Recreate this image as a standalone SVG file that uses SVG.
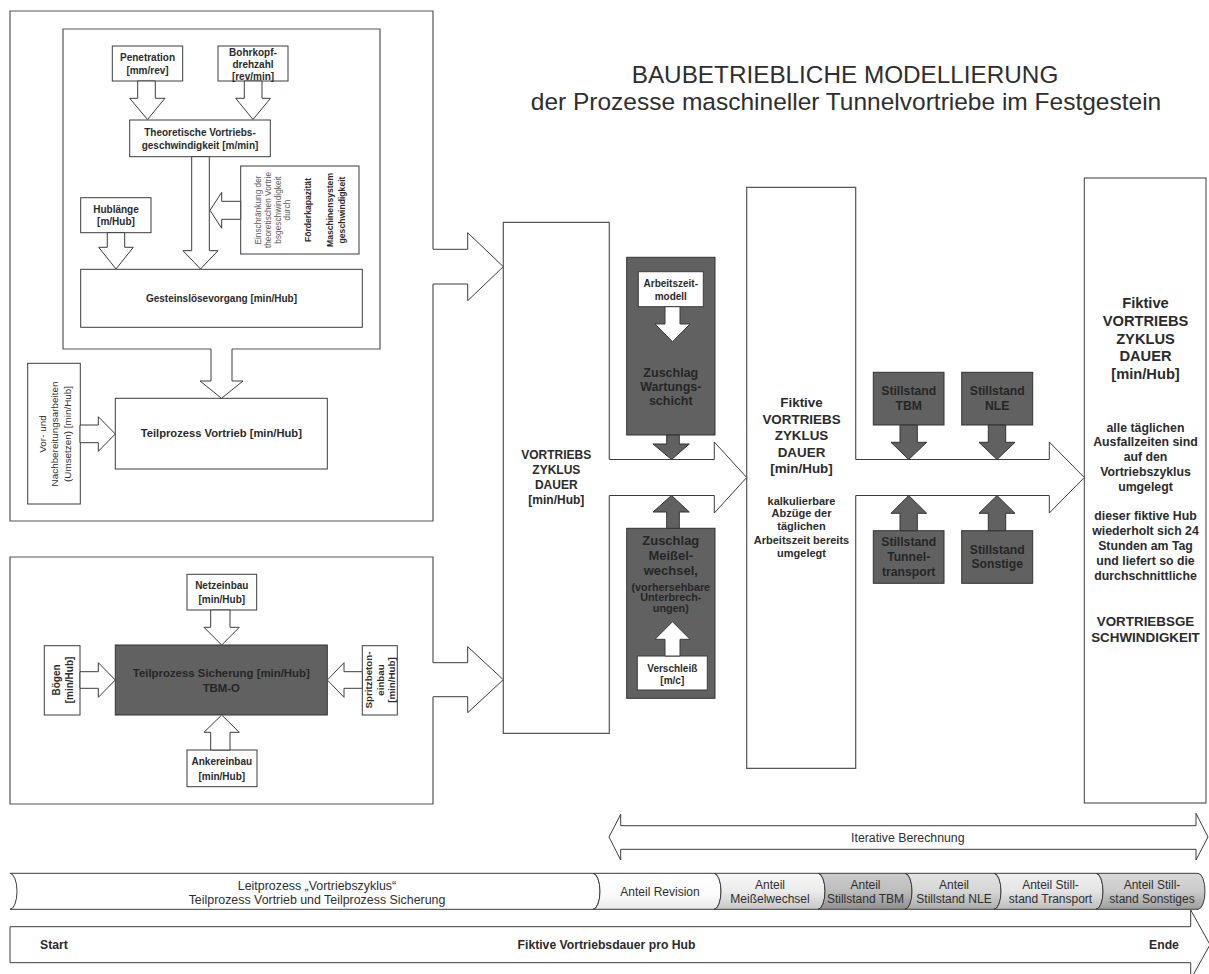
<svg xmlns="http://www.w3.org/2000/svg" width="1209" height="974" viewBox="0 0 1209 974">
<defs>
<style>
.b{fill:#fff;stroke:#3c3c3c;stroke-width:1}
.ob{fill:#fff;stroke:#555;stroke-width:1.2}
.g{fill:#616161;stroke:#333;stroke-width:1}
.a{fill:#fff;stroke:#3c3c3c;stroke-width:1}
.ga{fill:#616161;stroke:#333;stroke-width:1}
.seg{stroke:#3c3c3c;stroke-width:1}
text{font-family:"Liberation Sans",Arial,Helvetica,sans-serif}
.t{font-weight:bold;fill:#2b2b2b;text-anchor:middle}
.tg{font-weight:bold;fill:#262626;text-anchor:middle}
.r{fill:#2e2e2e;text-anchor:middle}
.rg{fill:#585858;text-anchor:middle}
</style>
<linearGradient id="g1" x1="0" y1="0" x2="0" y2="1"><stop offset="0" stop-color="#f6f6f6"/><stop offset="0.5" stop-color="#ececec"/><stop offset="1" stop-color="#c6c6c6"/></linearGradient>
<linearGradient id="g2" x1="0" y1="0" x2="0" y2="1"><stop offset="0" stop-color="#cbcbcb"/><stop offset="0.5" stop-color="#bdbdbd"/><stop offset="1" stop-color="#8f8f8f"/></linearGradient>
<linearGradient id="g3" x1="0" y1="0" x2="0" y2="1"><stop offset="0" stop-color="#e2e2e2"/><stop offset="0.5" stop-color="#d6d6d6"/><stop offset="1" stop-color="#ababab"/></linearGradient>
<linearGradient id="g4" x1="0" y1="0" x2="0" y2="1"><stop offset="0" stop-color="#efefef"/><stop offset="0.5" stop-color="#e5e5e5"/><stop offset="1" stop-color="#bdbdbd"/></linearGradient>
<linearGradient id="g5" x1="0" y1="0" x2="0" y2="1"><stop offset="0" stop-color="#d8d8d8"/><stop offset="0.5" stop-color="#cbcbcb"/><stop offset="1" stop-color="#9d9d9d"/></linearGradient>
<linearGradient id="g0" x1="0" y1="0" x2="0" y2="1"><stop offset="0" stop-color="#ffffff"/><stop offset="0.6" stop-color="#fbfbfb"/><stop offset="1" stop-color="#e8e8e8"/></linearGradient>
</defs>
<rect x="0" y="0" width="1209" height="974" fill="#fff"/>

<g id="title">
<text class="r" x="845" y="82.5" font-size="24.3">BAUBETRIEBLICHE MODELLIERUNG</text>
<text class="r" x="846" y="109.5" font-size="24.5">der Prozesse maschineller Tunnelvortriebe im Festgestein</text>
</g>

<g id="outer-vortrieb"><path class="ob" d="M433,249.3 V11 H10 V521 H433 V284"/></g>
<g id="inner-gestein"><path class="ob" d="M211,349 H63 V29 H380 V349 H232"/></g>

<g id="penetration"><rect class="b" x="112.3" y="46" width="70.4" height="35"/>
<text class="t" font-size="10" x="147.5" y="61.3">Penetration</text><text class="t" font-size="10" x="147.5" y="74">[mm/rev]</text></g>
<g id="bohrkopf"><rect class="b" x="218" y="46" width="70" height="35"/>
<text class="t" font-size="10" x="253" y="55.8">Bohrkopf-</text><text class="t" font-size="10" x="253" y="67.5">drehzahl</text><text class="t" font-size="10" x="253" y="79.5">[rev/min]</text></g>
<g id="theoretisch"><rect class="b" x="129.7" y="120" width="140.6" height="36.7"/>
<text class="t" font-size="10" x="200" y="136">Theoretische Vortriebs-</text><text class="t" font-size="10" x="200" y="148.6">geschwindigkeit [m/min]</text></g>
<g id="einschraenkung"><rect class="b" x="240.7" y="166" width="118.3" height="88"/>
<text class="rg" font-size="8.3" transform="translate(261,210) rotate(-90)">Einschränkung der</text>
<text class="rg" font-size="8.3" transform="translate(271,210) rotate(-90)">theoretischen Vortrie</text>
<text class="rg" font-size="8.3" transform="translate(280.5,210) rotate(-90)">bsgeschwindigkeit</text>
<text class="rg" font-size="8.3" transform="translate(290,210) rotate(-90)">durch</text>
<text class="t" font-size="8.6" transform="translate(311,210) rotate(-90)">Förderkapazität</text>
<text class="t" font-size="8.6" transform="translate(332.8,210) rotate(-90)">Maschinensystem</text>
<text class="t" font-size="8.6" transform="translate(344.8,210) rotate(-90)">geschwindigkeit</text></g>
<g id="hublaenge"><rect class="b" x="80.7" y="197.7" width="70.3" height="35"/>
<text class="t" font-size="10" x="116" y="212.6">Hublänge</text><text class="t" font-size="10" x="116" y="225.3">[m/Hub]</text></g>
<g id="gestein"><rect class="b" x="80.7" y="269.3" width="281.6" height="58"/>
<text class="t" font-size="10" x="221.5" y="301.6">Gesteinslösevorgang [min/Hub]</text></g>
<g id="teil-vortrieb"><rect class="b" x="115.3" y="398.3" width="212" height="70.7"/>
<text class="t" font-size="11.2" x="221.3" y="437">Teilprozess Vortrieb [min/Hub]</text></g>
<g id="vor-nach"><rect class="b" x="27.7" y="363.3" width="52.6" height="140.7"/>
<text class="r" fill="#444" font-size="9.9" transform="translate(45.5,434) rotate(-90)">Vor- und</text>
<text class="r" fill="#444" font-size="9.9" transform="translate(58.2,434) rotate(-90)">Nachbereitungsarbeiten</text>
<text class="r" fill="#444" font-size="9.9" transform="translate(70.5,434) rotate(-90)">(Umsetzen) [min/Hub]</text></g>

<g id="outer-sicherung"><path class="ob" d="M433,662.7 V557 H10 V804 H433 V696.7"/></g>
<g id="netzeinbau"><rect class="b" x="187" y="574.3" width="69.7" height="35.7"/>
<text class="t" font-size="10" x="221.8" y="588.6">Netzeinbau</text><text class="t" font-size="10" x="221.8" y="602.6">[min/Hub]</text></g>
<g id="sicherung"><rect class="g" x="115.3" y="645" width="212" height="70"/>
<text class="tg" font-size="11.4" x="221.3" y="677">Teilprozess Sicherung [min/Hub]</text><text class="tg" font-size="11.4" x="221.3" y="692">TBM-O</text></g>
<g id="boegen"><rect class="b" x="44.3" y="645.7" width="35.7" height="69.3"/>
<text class="t" font-size="10" transform="translate(60.3,680) rotate(-90)">Bögen</text>
<text class="t" font-size="10" transform="translate(72.6,680) rotate(-90)">[min/Hub]</text></g>
<g id="spritzbeton"><rect class="b" x="362.3" y="645.7" width="35" height="69.3"/>
<text class="t" font-size="9.8" transform="translate(371.8,680) rotate(-90)">Spritzbeton-</text>
<text class="t" font-size="9.8" transform="translate(383.5,680) rotate(-90)">einbau</text>
<text class="t" font-size="9.8" transform="translate(395.2,680) rotate(-90)">[min/Hub]</text></g>
<g id="ankereinbau"><rect class="b" x="187" y="750" width="70" height="36.7"/>
<text class="t" font-size="10" x="221.8" y="765.3">Ankereinbau</text><text class="t" font-size="10" x="221.8" y="779.6">[min/Hub]</text></g>

<g id="vortriebszyklus"><path class="ob" d="M609.3,459.5 V222.3 H503.3 V733.3 H609.3 V495.5"/>
<text class="t" font-size="12" x="556.3" y="459.3">VORTRIEBS</text>
<text class="t" font-size="12" x="556.3" y="474.3">ZYKLUS</text>
<text class="t" font-size="12" x="556.3" y="489.3">DAUER</text>
<text class="t" font-size="12" x="556.3" y="504.3">[min/Hub]</text></g>

<g id="wartung"><rect class="g" x="626.7" y="257.3" width="88.3" height="177.7"/>
<text class="tg" font-size="12.5" x="670.8" y="377.2">Zuschlag</text>
<text class="tg" font-size="12.5" x="670.8" y="391.2">Wartungs-</text>
<text class="tg" font-size="12.5" x="670.8" y="405.2">schicht</text></g>
<g id="arbeitszeit"><rect class="b" x="638.3" y="271.7" width="65" height="35"/>
<text class="t" font-size="10" x="670.8" y="286.8">Arbeitszeit-</text><text class="t" font-size="10" x="670.8" y="299.6">modell</text></g>
<g id="meissel"><rect class="g" x="626.7" y="528.3" width="88.3" height="170"/>
<text class="tg" font-size="13" x="670.8" y="544.7">Zuschlag</text>
<text class="tg" font-size="13" x="670.8" y="559.7">Meißel-</text>
<text class="tg" font-size="13" x="670.8" y="574.7">wechsel,</text>
<text class="tg" font-size="10.8" x="670.8" y="590.6">(vorhersehbare</text>
<text class="tg" font-size="10.8" x="670.8" y="601.2">Unterbrech-</text>
<text class="tg" font-size="10.8" x="670.8" y="612">ungen)</text></g>
<g id="verschleiss"><rect class="b" x="637.3" y="656" width="70" height="34"/>
<text class="t" font-size="10" x="672.3" y="671.6">Verschleiß</text><text class="t" font-size="10" x="672.3" y="683.6">[m/c]</text></g>

<g id="fiktiv-mitte"><path class="ob" d="M855.7,459.5 V187.3 H746.7 V768.3 H855.7 V495.5"/>
<text class="t" font-size="13.4" x="801.5" y="406.8">Fiktive</text>
<text class="t" font-size="13.4" x="801.5" y="423.8">VORTRIEBS</text>
<text class="t" font-size="13.4" x="801.5" y="440.3">ZYKLUS</text>
<text class="t" font-size="13.4" x="801.5" y="456.8">DAUER</text>
<text class="t" font-size="13.4" x="801.5" y="472.8">[min/Hub]</text>
<text class="t" font-size="11" x="801.5" y="504.7">kalkulierbare</text>
<text class="t" font-size="11" x="801.5" y="517.3">Abzüge der</text>
<text class="t" font-size="11" x="801.5" y="530">täglichen</text>
<text class="t" font-size="11" x="801.5" y="544">Arbeitszeit bereits</text>
<text class="t" font-size="11" x="801.5" y="557.3">umgelegt</text></g>

<g id="stillstand-tbm"><rect class="g" x="873.3" y="372.3" width="70.7" height="52.7"/>
<text class="tg" font-size="12.2" x="908.7" y="395.1">Stillstand</text><text class="tg" font-size="12.2" x="908.7" y="410.1">TBM</text></g>
<g id="stillstand-nle"><rect class="g" x="961.7" y="372.3" width="71" height="52.7"/>
<text class="tg" font-size="12.2" x="997.2" y="395.1">Stillstand</text><text class="tg" font-size="12.2" x="997.2" y="410.1">NLE</text></g>
<g id="stillstand-transport"><rect class="g" x="873.3" y="530.7" width="70.7" height="52.6"/>
<text class="tg" font-size="12.2" x="908.7" y="546.1">Stillstand</text><text class="tg" font-size="12.2" x="908.7" y="561.1">Tunnel-</text><text class="tg" font-size="12.2" x="908.7" y="576.1">transport</text></g>
<g id="stillstand-sonstige"><rect class="g" x="961.7" y="530.7" width="71" height="52.6"/>
<text class="tg" font-size="12.2" x="997.2" y="553.7">Stillstand</text><text class="tg" font-size="12.2" x="997.2" y="568.4">Sonstige</text></g>

<g id="fiktiv-rechts"><rect class="b" x="1084.3" y="178" width="121.7" height="625"/>
<text class="t" font-size="14.7" x="1145.5" y="308">Fiktive</text>
<text class="t" font-size="14.7" x="1145.5" y="326">VORTRIEBS</text>
<text class="t" font-size="14.7" x="1145.5" y="344.3">ZYKLUS</text>
<text class="t" font-size="14.7" x="1145.5" y="361.3">DAUER</text>
<text class="t" font-size="14.7" x="1145.5" y="378.6">[min/Hub]</text>
<text class="t" font-size="12.3" x="1145.5" y="431.7">alle täglichen</text>
<text class="t" font-size="12.3" x="1145.5" y="446.1">Ausfallzeiten sind</text>
<text class="t" font-size="12.3" x="1145.5" y="461.1">auf den</text>
<text class="t" font-size="12.3" x="1145.5" y="476.1">Vortriebszyklus</text>
<text class="t" font-size="12.3" x="1145.5" y="491.1">umgelegt</text>
<text class="t" font-size="12.3" x="1145.5" y="520.1">dieser fiktive Hub</text>
<text class="t" font-size="12.3" x="1145.5" y="535.1">wiederholt sich 24</text>
<text class="t" font-size="12.3" x="1145.5" y="550.1">Stunden am Tag</text>
<text class="t" font-size="12.3" x="1145.5" y="565.1">und liefert so die</text>
<text class="t" font-size="12.3" x="1145.5" y="580.1">durchschnittliche</text>
<text class="t" font-size="13.4" x="1145.5" y="626.1">VORTRIEBSGE</text>
<text class="t" font-size="13.4" x="1145.5" y="641.5">SCHWINDIGKEIT</text></g>

<g id="connectors">
<path class="a" d="M433,249.3 H467.7 V232.7 L503.3,266.7 L467.7,300.7 V284 H433"/>
<path class="a" d="M433,662.7 H467.7 V646.7 L503.3,679.7 L467.7,712.7 V696.7 H433"/>
<path class="a" d="M211,349 V381 H200 L221.5,398.3 L243,381 H232 V349"/>
<path class="a" d="M609.3,459.5 H714.3 V442 L746.7,477.5 L714.3,513 V495.5 H609.3"/>
<path class="a" d="M855.7,459.5 H1049.3 V442 L1084.3,477.5 L1049.3,513 V495.5 H855.7"/>
<polygon class="a" points="137.7,81 155.3,81 155.3,98.3 165,98.3 147.5,119.5 129.7,98.3 137.7,98.3"/>
<polygon class="a" points="244.3,81 262,81 262,98.3 270.5,98.3 253,119.5 235.7,98.3 244.3,98.3"/>
<polygon class="a" points="191.7,156.7 209.3,156.7 209.3,250.7 218,250.7 200.5,269 183,250.7 191.7,250.7"/>
<polygon class="a" points="107.3,232.7 124.7,232.7 124.7,247.3 133.3,247.3 116,269 98.7,247.3 107.3,247.3"/>
<polygon class="a" points="240.7,201.3 221.7,201.3 221.7,192.3 210,210.3 221.7,228.3 221.7,219.3 240.7,219.3"/>
<polygon class="a" points="80,425 98.3,425 98.3,416.7 115.3,434 98.3,451.3 98.3,442.7 80,442.7"/>
<polygon class="a" points="210.7,610 230,610 230,627.3 239.3,627.3 221.7,645 204,627.3 210.7,627.3"/>
<polygon class="a" points="210.7,750 230,750 230,732.3 239.3,732.3 221.7,715 204,732.3 210.7,732.3"/>
<polygon class="a" points="80,671.7 98.3,671.7 98.3,662.7 115.3,680 98.3,697.3 98.3,688.3 80,688.3"/>
<polygon class="a" points="362.3,671.7 344,671.7 344,662.7 327.3,680 344,697.3 344,688.3 362.3,688.3"/>
<polygon class="a" points="665,306.7 680,306.7 680,324 690,324 672.5,341.7 655,324 665,324"/>
<polygon class="ga" points="666.7,435 679.3,435 679.3,444 689.3,444 671.5,459.5 653,444 666.7,444"/>
<polygon class="ga" points="666.7,528.3 679.3,528.3 679.3,512 689.3,512 671.5,495.5 653,512 666.7,512"/>
<polygon class="a" points="665,656 680,656 680,639.3 690,639.3 672.5,621.7 655,639.3 665,639.3"/>
<polygon class="ga" points="900,425 917.3,425 917.3,442.3 926.7,442.3 908.7,459.5 891,442.3 900,442.3"/>
<polygon class="ga" points="988.3,425 1005.7,425 1005.7,442.3 1015,442.3 997,459.5 979,442.3 988.3,442.3"/>
<polygon class="ga" points="900,530.7 917.3,530.7 917.3,513.3 926.7,513.3 908.7,495.5 891,513.3 900,513.3"/>
<polygon class="ga" points="988.3,530.7 1005.7,530.7 1005.7,513.3 1015,513.3 997,495.5 979,513.3 988.3,513.3"/>
</g>

<g id="iterativ">
<polygon class="a" points="609,837 620.7,814.3 620.7,825.7 1196,825.7 1196,813.3 1208,837 1196,860 1196,849.3 620.7,849.3 620.7,860"/>
<text class="r" font-size="12.3" x="907.8" y="842">Iterative Berechnung</text>
</g>

<g id="anteile">
<path class="seg" fill="#fff" d="M10,873.3 H593 A7,18 0 0 1 593,909.3 H10 A7,18 0 0 0 10,873.3 Z"/>
<path class="seg" fill="url(#g0)" d="M593,873.3 H714 A7,18 0 0 1 714,909.3 H593 A7,18 0 0 0 593,873.3 Z"/>
<path class="seg" fill="url(#g1)" d="M714,873.3 H818 A7,18 0 0 1 818,909.3 H714 A7,18 0 0 0 714,873.3 Z"/>
<path class="seg" fill="url(#g2)" d="M818,873.3 H905 A7,18 0 0 1 905,909.3 H818 A7,18 0 0 0 818,873.3 Z"/>
<path class="seg" fill="url(#g3)" d="M905,873.3 H994 A7,18 0 0 1 994,909.3 H905 A7,18 0 0 0 905,873.3 Z"/>
<path class="seg" fill="url(#g4)" d="M994,873.3 H1096 A7,18 0 0 1 1096,909.3 H994 A7,18 0 0 0 994,873.3 Z"/>
<path class="seg" fill="url(#g5)" d="M1096,873.3 H1198 A7,18 0 0 1 1198,909.3 H1096 A7,18 0 0 0 1096,873.3 Z"/>
<text class="r" font-size="12.4" x="317" y="890">Leitprozess „Vortriebszyklus“</text>
<text class="r" font-size="12.4" x="317" y="904">Teilprozess Vortrieb und Teilprozess Sicherung</text>
<text class="r" font-size="12" x="660" y="896">Anteil Revision</text>
<text class="r" font-size="12" x="770" y="889.3">Anteil</text>
<text class="r" font-size="12" x="770" y="903.3">Meißelwechsel</text>
<text class="r" font-size="12" x="865.5" y="889.3">Anteil</text>
<text class="r" font-size="12" x="865.5" y="903.3">Stillstand TBM</text>
<text class="r" font-size="12" x="954" y="889.3">Anteil</text>
<text class="r" font-size="12" x="954" y="903.3">Stillstand NLE</text>
<text class="r" font-size="12" x="1050.5" y="889.3">Anteil Still-</text>
<text class="r" font-size="12" x="1050.5" y="903.3">stand Transport</text>
<text class="r" font-size="12" x="1152" y="889.3">Anteil Still-</text>
<text class="r" font-size="12" x="1152" y="903.3">stand Sonstiges</text>
</g>

<g id="zeitachse">
<path class="a" d="M10,926.7 H1190.7 V910 L1210,944.7 L1190.7,979.4 V962.7 H10 Z"/>
<text class="t" font-size="12.2" x="40" y="949" style="text-anchor:start">Start</text>
<text class="t" font-size="12.2" x="606.5" y="949">Fiktive Vortriebsdauer pro Hub</text>
<text class="t" font-size="12.2" x="1164" y="949">Ende</text>
</g>
</svg>
